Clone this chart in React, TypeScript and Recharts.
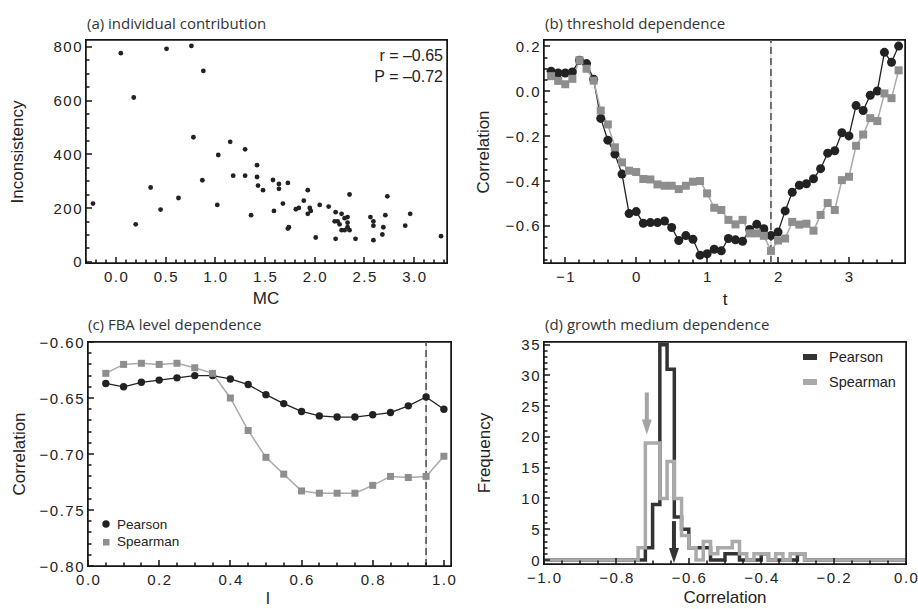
import React from 'react';
import { ComposedChart, Line, Scatter, XAxis, YAxis, ReferenceLine, ReferenceArea } from 'recharts';

// (a) individual contribution
const mcValues = [
  -0.23, 0.05, 0.18, 0.2, 0.35, 0.45, 0.51, 0.63, 0.76, 0.78, 0.87, 0.88, 1.02, 1.03, 1.15, 1.18, 1.3,
  1.3, 1.36, 1.42, 1.42, 1.43, 1.48, 1.58, 1.59, 1.64, 1.64, 1.68, 1.73, 1.73, 1.74, 1.81, 1.84, 1.89,
  1.93, 1.93, 1.95, 1.96, 2.01, 2.05, 2.14, 2.21, 2.2, 2.23, 2.25, 2.21, 2.27, 2.3, 2.33, 2.33, 2.33,
  2.27, 2.3, 2.35, 2.35, 2.41, 2.56, 2.59, 2.59, 2.59, 2.68, 2.69, 2.71, 2.73, 2.91, 2.96, 3.27,
];
const inconsistency = [
  217, 777, 612, 140, 277, 195, 793, 238, 804, 464, 304, 711, 212, 398, 447, 321, 419,
  321, 174, 360, 316, 284, 267, 305, 190, 290, 272, 217, 294, 124, 129, 196, 201, 228,
  267, 179, 201, 190, 91, 212, 206, 185, 151, 151, 140, 86, 179, 163, 167, 146, 129,
  118, 118, 118, 251, 86, 167, 151, 135, 81, 102, 129, 174, 244, 135, 179, 96,
];

// (b) threshold dependence
const tValues = [
  -1.2, -1.1, -1.0, -0.9, -0.8, -0.7, -0.6, -0.5, -0.4, -0.3, -0.2, -0.1, 0.0, 0.1, 0.2, 0.3, 0.4,
  0.5, 0.6, 0.7, 0.8, 0.9, 1.0, 1.1, 1.2, 1.3, 1.4, 1.5, 1.6, 1.7, 1.8, 1.9, 2.0, 2.1, 2.2, 2.3, 2.4,
  2.5, 2.6, 2.7, 2.8, 2.9, 3.0, 3.1, 3.2, 3.3, 3.4, 3.5, 3.6, 3.7,
];
const pearsonT = [
  0.089, 0.081, 0.081, 0.086, 0.138, 0.123, 0.053, -0.121, -0.218, -0.28, -0.369, -0.545, -0.536,
  -0.588, -0.585, -0.585, -0.578, -0.607, -0.665, -0.643, -0.659, -0.73, -0.724, -0.704, -0.711,
  -0.656, -0.662, -0.668, -0.616, -0.593, -0.612, -0.643, -0.627, -0.533, -0.45, -0.419, -0.412,
  -0.39, -0.345, -0.276, -0.265, -0.185, -0.199, -0.064, -0.086, -0.018, 0.001, 0.173, 0.129, 0.201,
];
const spearmanT = [
  0.067, 0.046, 0.031, 0.055, 0.138, 0.1, 0.047, -0.086, -0.148, -0.25, -0.317, -0.354, -0.36,
  -0.391, -0.393, -0.415, -0.421, -0.421, -0.436, -0.421, -0.403, -0.4, -0.455, -0.519, -0.529,
  -0.573, -0.593, -0.573, -0.633, -0.633, -0.644, -0.711, -0.665, -0.656, -0.582, -0.594, -0.59,
  -0.621, -0.551, -0.498, -0.529, -0.396, -0.381, -0.243, -0.193, -0.12, -0.133, -0.01, -0.031, 0.093,
];
const tThreshold = 1.9;

// (c) FBA level dependence
const levels = [
  0.05, 0.1, 0.15, 0.2, 0.25, 0.3, 0.35, 0.4, 0.45, 0.5, 0.55, 0.6, 0.65, 0.7, 0.75, 0.8, 0.85, 0.9,
  0.95, 1.0,
];
const pearsonL = [
  -0.637, -0.64, -0.636, -0.634, -0.632, -0.63, -0.63, -0.633, -0.638, -0.647, -0.655, -0.662,
  -0.666, -0.667, -0.667, -0.665, -0.663, -0.657, -0.649, -0.66,
];
const spearmanL = [
  -0.628, -0.62, -0.619, -0.62, -0.619, -0.623, -0.628, -0.65, -0.679, -0.703, -0.718, -0.733,
  -0.735, -0.735, -0.735, -0.728, -0.72, -0.721, -0.72, -0.702,
];
const levelMark = 0.95;

// (d) growth medium dependence
const binEdges = [
  -1.0, -0.76, -0.74, -0.72, -0.7, -0.68, -0.66, -0.64, -0.62, -0.6, -0.58, -0.56, -0.54, -0.52,
  -0.5, -0.48, -0.46, -0.44, -0.42, -0.4, -0.38, -0.36, -0.34, -0.32, -0.3, -0.28, 0.0,
];
const pearsonFreq = [
  0, 0, 0, 2, 9, 35, 31, 7, 5, 2, 2, 2, 0, 0, 1, 1, 0, 0, 0, 1, 0, 0, 0, 0, 1, 0, 0,
];
const spearmanFreq = [
  0, 0, 2, 19, 19, 10, 16, 10, 4, 2, 0, 3, 1, 2, 2, 3, 1, 0, 1, 1, 0, 1, 0, 1, 1, 0, 0,
];
const pearsonMean = -0.641;
const spearmanMean = -0.716;

const INK = '#151515';
const DARK = '#333';
const GREY_LINE = '#aaa';
const GREY_MARK = '#8e8e8e';

const tickFont: React.CSSProperties = {
  fontFamily: '"Liberation Sans", Arial, sans-serif',
  fontSize: 15,
  letterSpacing: 1.5,
  fill: '#222',
};
const titleFont: React.CSSProperties = {
  fontFamily: '"Open Sans", "Noto Sans", sans-serif',
  fontSize: 15,
  fill: DARK,
};
const labelFont: React.CSSProperties = {
  fontFamily: '"Liberation Sans", Arial, sans-serif',
  fontSize: 17,
  fill: '#222',
};

const grid = (from: number, to: number, step: number) => {
  const out: number[] = [];
  const n = Math.round((to - from) / step);
  for (let i = 0; i <= n; i++) out.push(Math.round((from + i * step) * 1e6) / 1e6);
  return out;
};
const near = (a: number, b: number) => Math.abs(a - b) < 1e-6;
const minus = (s: string) => s.replace('-', '\u2212');

function bottomTick(majors: number[], fmt: (v: number) => string) {
  return (p: any) => {
    const v = p.payload.value;
    const major = majors.some((m) => near(m, v));
    const len = major ? 6 : 3.5;
    return (
      <g key={`bt-${p.index}`}>
        <rect x={Math.round(p.x) - 0.75} y={p.y - len} width={1.5} height={len} fill={INK} />
        {major && (
          <text x={p.x + 0.75} y={p.y + 19} textAnchor="middle" style={tickFont}>
            {fmt(v)}
          </text>
        )}
      </g>
    );
  };
}

function leftTick(majors: number[], fmt: (v: number) => string) {
  return (p: any) => {
    const v = p.payload.value;
    const major = majors.some((m) => near(m, v));
    const len = major ? 6 : 3.5;
    return (
      <g key={`lt-${p.index}`}>
        <rect x={p.x} y={Math.round(p.y) - 0.75} width={len} height={1.5} fill={INK} />
        {major && (
          <text x={p.x - 3} y={p.y + 5.5} textAnchor="end" style={tickFont}>
            {fmt(v)}
          </text>
        )}
      </g>
    );
  };
}

const square = (size: number, fill: string) => (p: any) => (
  <rect
    key={`sq-${p.index}`}
    x={p.cx - size / 2}
    y={p.cy - size / 2}
    width={size}
    height={size}
    fill={fill}
  />
);

const arrow = (color: string) => (p: any) => (
  <g key={`ar-${color}`}>
    <rect x={p.cx - 2} y={p.cy - 42} width={4} height={28} fill={color} />
    <polygon
      points={`${p.cx - 5},${p.cy - 15} ${p.cx + 5},${p.cy - 15} ${p.cx},${p.cy}`}
      fill={color}
    />
  </g>
);

type AxesProps = {
  xd: number[];
  yd: number[];
  xTicks: number[];
  yTicks: number[];
  xMajor: number[];
  yMajor: number[];
  xFmt: (v: number) => string;
  yFmt: (v: number) => string;
  xHeight: number;
  yWidth: number;
};

function axes(a: AxesProps) {
  return [
    <XAxis
      key="xb"
      type="number"
      dataKey="x"
      domain={a.xd}
      allowDataOverflow
      ticks={a.xTicks}
      interval={0}
      height={a.xHeight}
      axisLine={false}
      tickLine={false}
      tickSize={0}
      tickMargin={0}
      tick={bottomTick(a.xMajor, a.xFmt)}
    />,
    <YAxis
      key="yl"
      type="number"
      domain={a.yd}
      allowDataOverflow
      ticks={a.yTicks}
      interval={0}
      width={a.yWidth}
      axisLine={false}
      tickLine={false}
      tickSize={0}
      tickMargin={0}
      tick={leftTick(a.yMajor, a.yFmt)}
    />,
    <ReferenceArea
      key="frame"
      x1={a.xd[0]}
      x2={a.xd[1]}
      y1={a.yd[0]}
      y2={a.yd[1]}
      fill="none"
      fillOpacity={0}
      stroke={INK}
      strokeWidth={1.5}
      ifOverflow="visible"
    />,
  ];
}

function PanelA() {
  const rows = mcValues.map((x, i) => ({ x, y: inconsistency[i] }));
  return (
    <ComposedChart width={459} height={300} margin={{ top: 40, right: 12, bottom: 0, left: 0 }} data={rows}>
      {axes({
        xd: [-0.3, 3.33],
        yd: [-4, 826],
        xTicks: grid(-0.3, 3.3, 0.1),
        yTicks: grid(0, 800, 50),
        xMajor: grid(0, 3, 0.5),
        yMajor: grid(0, 800, 200),
        xFmt: (v) => v.toFixed(1),
        yFmt: (v) => String(v),
        xHeight: 37,
        yWidth: 86,
      })}
      <Scatter
        dataKey="y"
        isAnimationActive={false}
        shape={(p: any) => <circle key={`pa-${p.index}`} cx={p.cx} cy={p.cy} r={2.4} fill="#222" />}
      />
    </ComposedChart>
  );
}

function PanelB() {
  const rows = tValues.map((x, i) => ({ x, p: pearsonT[i], s: spearmanT[i] }));
  return (
    <ComposedChart width={459} height={300} margin={{ top: 40, right: 13, bottom: 0, left: 0 }} data={rows}>
      {axes({
        xd: [-1.3, 3.79],
        yd: [-0.765, 0.228],
        xTicks: grid(-1.2, 3.6, 0.2),
        yTicks: grid(-0.75, 0.2, 0.05),
        xMajor: grid(-1, 3, 1),
        yMajor: grid(-0.6, 0.2, 0.2),
        xFmt: (v) => minus(String(v)),
        yFmt: (v) => minus(v.toFixed(1)),
        xHeight: 37,
        yWidth: 85,
      })}
      <ReferenceLine x={tThreshold} stroke="#c4c4c4" strokeWidth={1} />
      <ReferenceLine x={tThreshold} stroke="#555" strokeWidth={1.6} strokeDasharray="7 4" />
      <Line
        dataKey="p"
        stroke="#222"
        strokeWidth={1.3}
        dot={{ r: 4.5, fill: '#222', stroke: '#222', strokeWidth: 0 }}
        isAnimationActive={false}
      />
      <Line
        dataKey="s"
        stroke={GREY_LINE}
        strokeWidth={1.5}
        dot={square(8, GREY_MARK)}
        isAnimationActive={false}
      />
    </ComposedChart>
  );
}

function PanelC() {
  const rows = levels.map((x, i) => ({ x, p: pearsonL[i], s: spearmanL[i] }));
  return (
    <ComposedChart width={459} height={309} margin={{ top: 42, right: 8, bottom: 0, left: 0 }} data={rows}>
      {axes({
        xd: [0, 1.02],
        yd: [-0.8, -0.6],
        xTicks: grid(0, 1, 0.05),
        yTicks: grid(-0.8, -0.6, 0.01),
        xMajor: grid(0, 1, 0.2),
        yMajor: grid(-0.8, -0.6, 0.05),
        xFmt: (v) => v.toFixed(1),
        yFmt: (v) => minus(v.toFixed(2)),
        xHeight: 43,
        yWidth: 88,
      })}
      <ReferenceLine x={levelMark} stroke="#c4c4c4" strokeWidth={1} />
      <ReferenceLine x={levelMark} stroke="#555" strokeWidth={1.6} strokeDasharray="7 4" />
      <Line
        dataKey="p"
        stroke="#222"
        strokeWidth={1.3}
        dot={{ r: 3.7, fill: '#222', stroke: '#222', strokeWidth: 0 }}
        isAnimationActive={false}
      />
      <Line
        dataKey="s"
        stroke={GREY_LINE}
        strokeWidth={1.5}
        dot={square(7, GREY_MARK)}
        isAnimationActive={false}
      />
    </ComposedChart>
  );
}

function PanelD() {
  const rows = binEdges.map((x, i) => ({ x, p: pearsonFreq[i], s: spearmanFreq[i] }));
  return (
    <ComposedChart width={459} height={309} margin={{ top: 42, right: 12, bottom: 0, left: 0 }} data={rows}>
      {axes({
        xd: [-1, 0],
        yd: [-0.65, 35.43],
        xTicks: grid(-1, 0, 0.05),
        yTicks: grid(0, 35, 1),
        xMajor: grid(-1, 0, 0.2),
        yMajor: grid(0, 35, 5),
        xFmt: (v) => minus(v.toFixed(1)),
        yFmt: (v) => String(v),
        xHeight: 45,
        yWidth: 85,
      })}
      <Line
        type="stepAfter"
        dataKey="p"
        stroke={DARK}
        strokeWidth={3.5}
        dot={false}
        isAnimationActive={false}
      />
      <Line
        type="stepAfter"
        dataKey="s"
        stroke={GREY_LINE}
        strokeWidth={3.5}
        dot={false}
        isAnimationActive={false}
      />
      <Scatter
        data={[{ x: spearmanMean, y: 20.4 }]}
        dataKey="y"
        shape={arrow('#a4a4a4')}
        isAnimationActive={false}
      />
      <Scatter
        data={[{ x: pearsonMean, y: -0.5 }]}
        dataKey="y"
        shape={arrow(DARK)}
        isAnimationActive={false}
      />
    </ComposedChart>
  );
}

// plot-area frames, matching each chart's margins and axis sizes
const frames = [
  { x: 86, y: 40, w: 361, h: 223 },
  { x: 544, y: 40, w: 361, h: 223 },
  { x: 88, y: 342, w: 363, h: 224 },
  { x: 544, y: 342, w: 362, h: 222 },
];

function Overlay() {
  return (
    <svg
      width={918}
      height={609}
      style={{ position: 'absolute', left: 0, top: 0, pointerEvents: 'none' }}
    >
      <text x={87} y={29} style={titleFont}>(a) individual contribution</text>
      <text x={545} y={29} style={titleFont}>(b) threshold dependence</text>
      <text x={88} y={330} style={titleFont}>(c) FBA level dependence</text>
      <text x={545} y={330} style={titleFont}>(d) growth medium dependence</text>

      <text x={266} y={304} textAnchor="middle" style={labelFont}>MC</text>
      <text x={725} y={305} textAnchor="middle" style={labelFont}>t</text>
      <text x={268} y={604} textAnchor="middle" style={labelFont}>l</text>
      <text x={725} y={603} textAnchor="middle" style={labelFont}>Correlation</text>

      <text transform="translate(23,152) rotate(-90)" textAnchor="middle" style={labelFont}>Inconsistency</text>
      <text transform="translate(489,152) rotate(-90)" textAnchor="middle" style={labelFont}>Correlation</text>
      <text transform="translate(25,454) rotate(-90)" textAnchor="middle" style={labelFont}>Correlation</text>
      <text transform="translate(490,453) rotate(-90)" textAnchor="middle" style={labelFont}>Frequency</text>

      <text x={443} y={61} textAnchor="end" style={{ ...labelFont, fontSize: 16 }}>r = {'\u2013'}0.65</text>
      <text x={443} y={82} textAnchor="end" style={{ ...labelFont, fontSize: 16 }}>P = {'\u2013'}0.72</text>

      <circle cx={106} cy={524} r={3.7} fill="#222" />
      <text x={117} y={529} style={{ ...labelFont, fontSize: 13.5 }}>Pearson</text>
      <rect x={103} y={539} width={6.5} height={6.5} fill={GREY_MARK} />
      <text x={117} y={546} style={{ ...labelFont, fontSize: 13.5 }}>Spearman</text>

      <rect x={803} y={354} width={14} height={6} fill={DARK} />
      <text x={829} y={362} style={{ ...labelFont, fontSize: 14.5 }}>Pearson</text>
      <rect x={803} y={379} width={14} height={6} fill={GREY_LINE} />
      <text x={829} y={387} style={{ ...labelFont, fontSize: 14.5 }}>Spearman</text>
    </svg>
  );
}

export default function App() {
  return (
    <div style={{ position: 'absolute', left: 0, top: 0, width: 918, height: 609, background: '#fff' }}>
      <div style={{ position: 'absolute', left: 0, top: 0 }}>
        <PanelA />
      </div>
      <div style={{ position: 'absolute', left: 459, top: 0 }}>
        <PanelB />
      </div>
      <div style={{ position: 'absolute', left: 0, top: 300 }}>
        <PanelC />
      </div>
      <div style={{ position: 'absolute', left: 459, top: 300 }}>
        <PanelD />
      </div>
      {frames.map((f, i) => (
        <div
          key={i}
          style={{
            position: 'absolute',
            left: f.x - 1,
            top: f.y - 1,
            width: f.w,
            height: f.h,
            border: `1.5px solid ${INK}`,
            boxSizing: 'content-box',
            pointerEvents: 'none',
          }}
        />
      ))}
      <Overlay />
    </div>
  );
}
